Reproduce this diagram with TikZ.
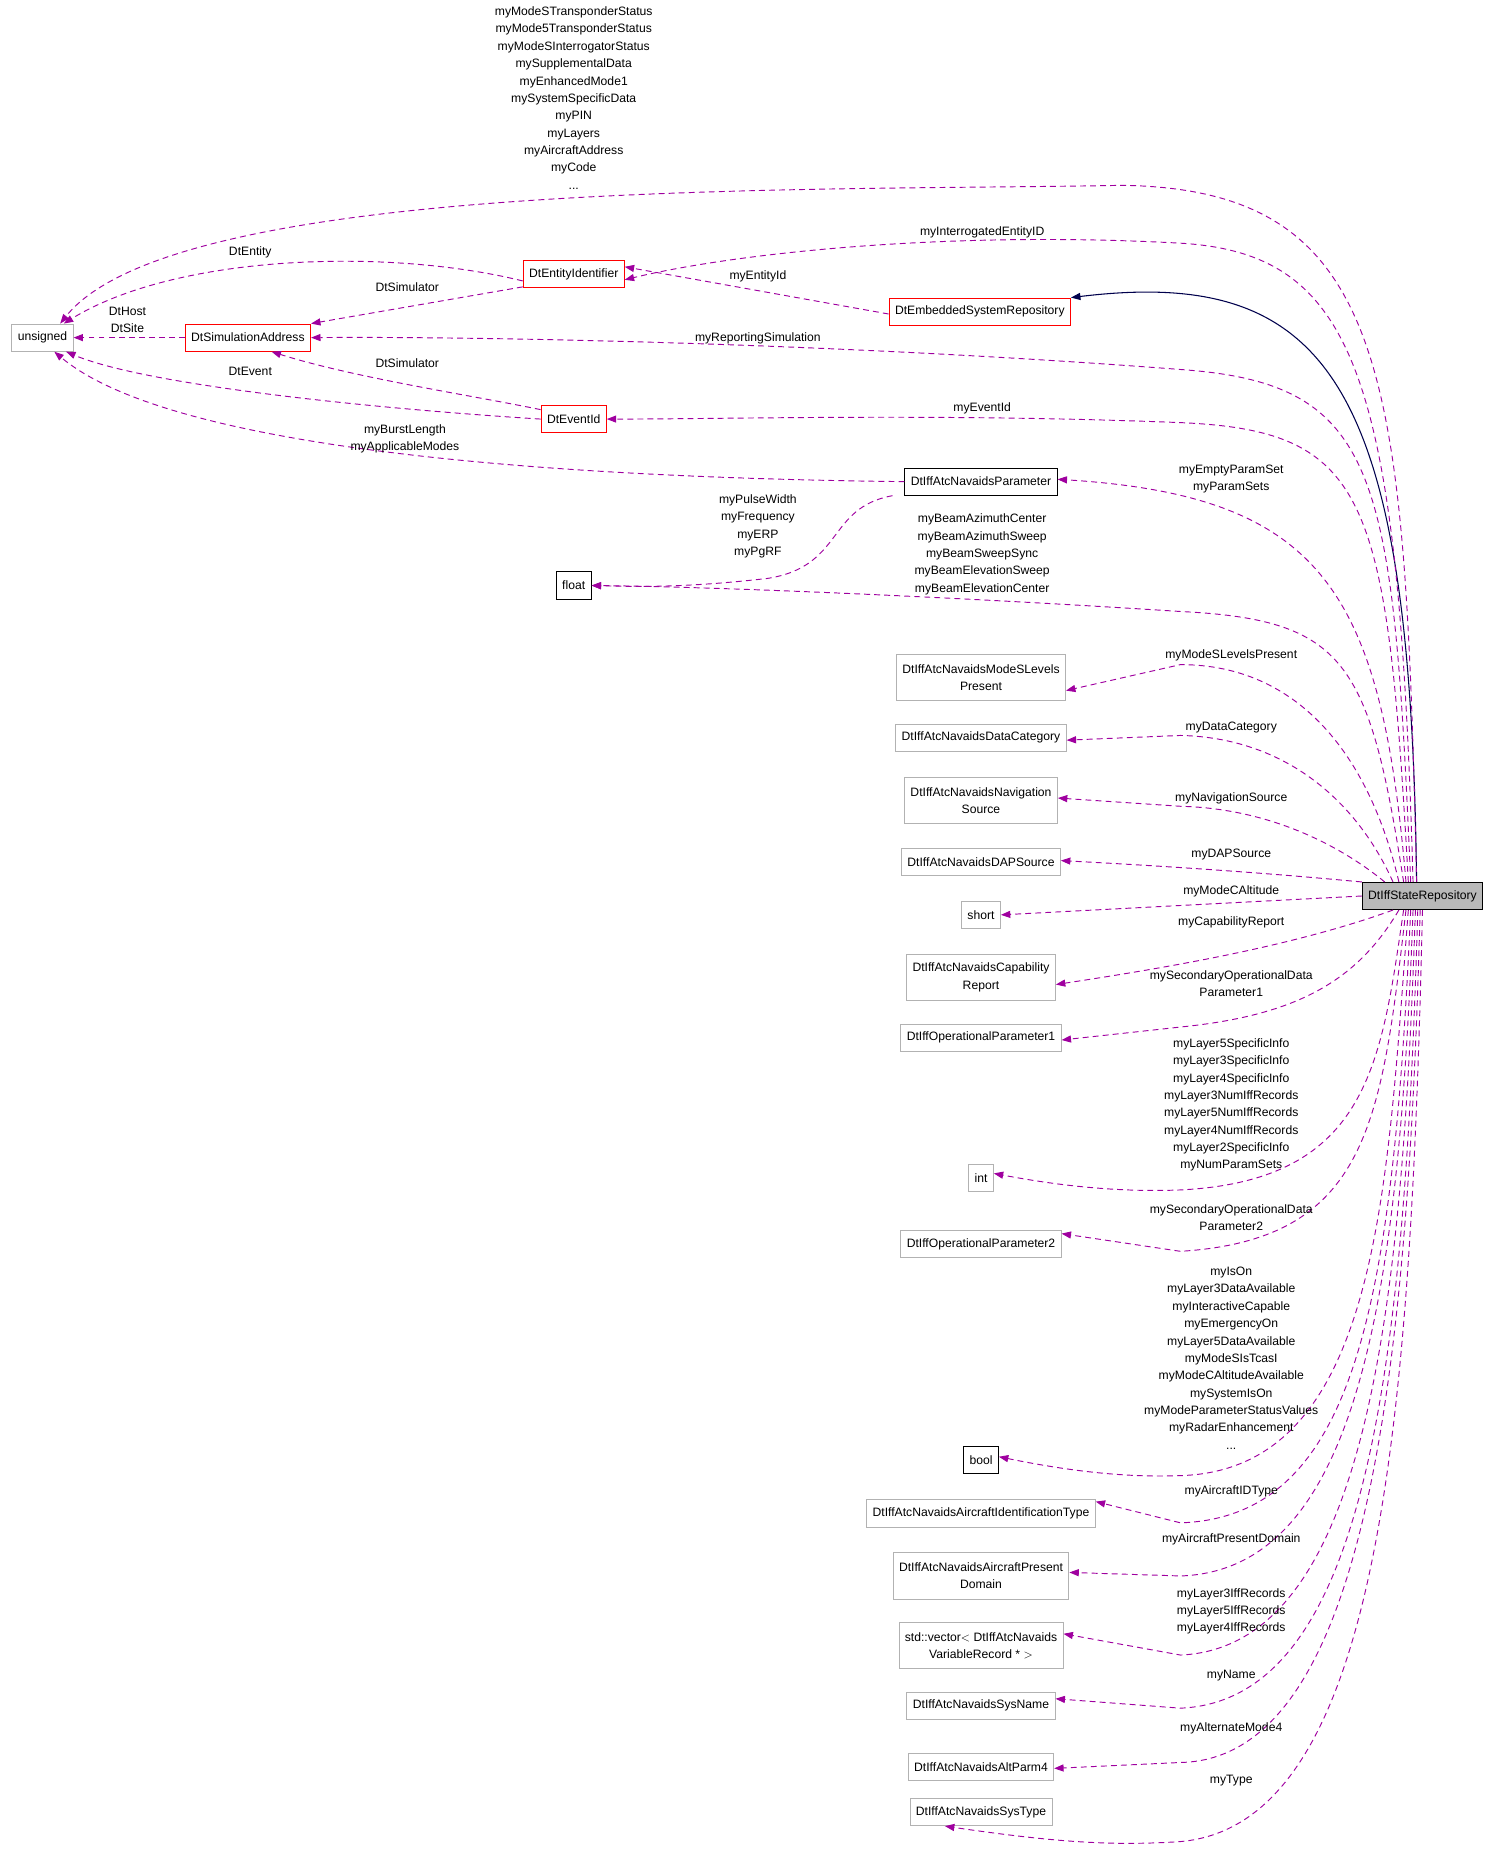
\documentclass[tikz,border=0pt]{standalone}
\usepackage{fontspec}
\setmainfont{Liberation Sans}
\usetikzlibrary{arrows.meta}
\begin{document}
\begin{tikzpicture}[x=1pt,y=-1pt,
  font=\fontsize{10.3}{14.7}\selectfont,
  box/.style={draw=#1,rectangle,inner xsep=5pt,inner ysep=0pt,minimum height=23pt,align=center,line width=0.8pt},
  box/.default=gray!60,
  dbl/.style={minimum height=39pt},
  dep/.style={draw=violet!80!magenta,color=violet!75!magenta,dash pattern=on 5pt off 3.5pt,line width=0.8pt,-{Triangle[length=8pt,width=6pt]}},
  inh/.style={draw=blue!30!black,line width=0.9pt,-{Triangle[length=8pt,width=6pt]}},
  lab/.style={align=center,inner sep=0pt,text=black}]
\useasboundingbox (0,0) rectangle (1270,1568);
% nodes
\node[box] (uns) at (36,286) {unsigned};
\node[box=red] (sim) at (210,286) {DtSimulationAddress};
\node[box=red] (ent) at (486,232) {DtEntityIdentifier};
\node[box=red] (emb) at (830,264) {DtEmbeddedSystemRepository};
\node[box=red] (evt) at (486,355) {DtEventId};
\node[box=black] (par) at (831,408) {DtIffAtcNavaidsParameter};
\node[box=black] (flt) at (486,496) {float};
\node[box,dbl] (msl) at (831,574) {DtIffAtcNavaidsModeSLevels\\Present};
\node[box] (dc) at (831,625) {DtIffAtcNavaidsDataCategory};
\node[box,dbl] (nav) at (831,678) {DtIffAtcNavaidsNavigation\\Source};
\node[box] (dap) at (831,730) {DtIffAtcNavaidsDAPSource};
\node[box] (sht) at (831,775) {short};
\node[box,dbl] (cap) at (831,828) {DtIffAtcNavaidsCapability\\Report};
\node[box] (op1) at (831,879) {DtIffOperationalParameter1};
\node[box] (int) at (831,998) {int};
\node[box] (op2) at (831,1054) {DtIffOperationalParameter2};
\node[box=black] (bool) at (831,1237) {bool};
\node[box] (aid) at (831,1282) {DtIffAtcNavaidsAircraftIdentificationType};
\node[box,dbl] (apd) at (831,1335) {DtIffAtcNavaidsAircraftPresent\\Domain};
\node[box,dbl] (vec) at (831,1394) {std::vector$<$ DtIffAtcNavaids\\VariableRecord * $>$};
\node[box] (sn) at (831,1445) {DtIffAtcNavaidsSysName};
\node[box] (alt) at (831,1497) {DtIffAtcNavaidsAltParm4};
\node[box] (st) at (831,1535) {DtIffAtcNavaidsSysType};
\node[box=black,fill=gray!55] (sr) at (1205,759) {DtIffStateRepository};
% inheritance
\draw[inh] ([xshift=-5pt]sr.north) .. controls (1195,330) and (1130,225) .. (emb.north east);
% edges from state repository (above)
\draw[dep] ([xshift=-5pt]sr.north) .. controls (1190,320) and (1180,160) .. (950,157) .. controls (700,162) and (150,150) .. ([xshift=15pt]uns.north);
\draw[dep] ([xshift=-8pt]sr.north) .. controls (1185,320) and (1150,215) .. (1000,206) .. controls (800,195) and (620,215) .. ([yshift=-5pt]ent.east);
\draw[dep] ([xshift=-10pt]sr.north) .. controls (1180,400) and (1170,325) .. (1000,313) .. controls (700,290) and (400,285) .. (sim.east);
\draw[dep] ([xshift=-12pt]sr.north) .. controls (1175,420) and (1160,365) .. (1000,358) .. controls (800,350) and (620,355) .. (evt.east);
\draw[dep] ([xshift=-14pt]sr.north) .. controls (1170,500) and (1120,420) .. ([yshift=2pt]par.east);
\draw[dep] ([xshift=-16pt]sr.north) .. controls (1160,560) and (1140,525) .. (1000,518) .. controls (800,505) and (600,497) .. (flt.east);
\draw[dep] ([xshift=-20pt]sr.north) .. controls (1160,640) and (1100,563) .. (1000,563) -- ([yshift=-11pt]msl.east);
\draw[dep] ([xshift=-25pt]sr.north) .. controls (1150,680) and (1090,625) .. (1000,623) -- ([yshift=-2pt]dc.east);
\draw[dep] ([xshift=-32pt]sr.north) .. controls (1140,720) and (1080,685) .. (1000,683) -- ([yshift=2pt]nav.east);
\draw[dep] (sr.north west) .. controls (1130,745) and (1050,737) .. ([yshift=1pt]dap.east);
\draw[dep] (sr.west) -- (sht.east);
\draw[dep] ([xshift=-25pt]sr.south) .. controls (1100,800) and (1000,818) .. ([yshift=-6pt]cap.east);
\draw[dep] ([xshift=-20pt]sr.south) .. controls (1150,830) and (1100,860) .. (1000,870) -- ([yshift=-2pt]op1.east);
\draw[dep] ([xshift=-16pt]sr.south) .. controls (1170,900) and (1160,1000) .. (1000,1008) .. controls (950,1010) and (900,1005) .. ([yshift=4pt]int.east);
\draw[dep] ([xshift=-14pt]sr.south) .. controls (1170,950) and (1160,1050) .. (1000,1060) -- ([yshift=9pt]op2.east);
\draw[dep] ([xshift=-12pt]sr.south) .. controls (1175,1000) and (1170,1245) .. (1000,1250) .. controls (950,1252) and (900,1245) .. ([yshift=3pt]bool.east);
\draw[dep] ([xshift=-10pt]sr.south) .. controls (1180,1100) and (1150,1285) .. (1000,1290) -- ([yshift=10pt]aid.east);
\draw[dep] ([xshift=-8pt]sr.south) .. controls (1185,1100) and (1150,1330) .. (1000,1335) -- ([yshift=3pt]apd.east);
\draw[dep] ([xshift=-6pt]sr.south) .. controls (1188,1100) and (1160,1395) .. (1000,1402) -- ([yshift=10pt]vec.east);
\draw[dep] ([xshift=-4pt]sr.south) .. controls (1190,1150) and (1160,1440) .. (1000,1447) -- ([yshift=6pt]sn.east);
\draw[dep] ([xshift=-2pt]sr.south) .. controls (1193,1150) and (1160,1490) .. (1000,1493) -- ([yshift=-1pt]alt.east);
\draw[dep] (sr.south) .. controls (1195,1200) and (1170,1545) .. (1000,1560) .. controls (940,1564) and (890,1560) .. ([xshift=30pt]st.south west);
% other edges
\draw[dep] ([yshift=-6pt]ent.west) .. controls (330,210) and (150,215) .. ([xshift=18pt]uns.north);
\draw[dep] ([yshift=-11pt]ent.west) -- (sim.north east);
\draw[dep] ([yshift=-2pt]emb.west) -- ([yshift=6pt]ent.east);
\draw[dep] (sim.west) -- (uns.east);
\draw[dep] ([yshift=8pt]evt.west) .. controls (400,335) and (300,320) .. ([xshift=20pt]sim.south);
\draw[dep] (evt.west) .. controls (300,345) and (120,325) .. ([xshift=20pt]uns.south);
\draw[dep] (par.west) .. controls (500,405) and (150,385) .. ([xshift=10pt]uns.south);
\draw[dep] ([xshift=-75pt]par.south) .. controls (700,430) and (715,480) .. (650,490) .. controls (580,498) and (540,497) .. (flt.east);
% labels
\node[lab] (l0) at (486,83) {myModeSTransponderStatus\\myMode5TransponderStatus\\myModeSInterrogatorStatus\\mySupplementalData\\myEnhancedMode1\\mySystemSpecificData\\myPIN\\myLayers\\myAircraftAddress\\myCode\\...};
\node[lab] (l1) at (832,197) {myInterrogatedEntityID};
\node[lab] (l2) at (212,214) {DtEntity};
\node[lab] (l3) at (345,243) {DtSimulator};
\node[lab] (l4) at (642,234) {myEntityId};
\node[lab] (l5) at (108,271) {DtHost\\DtSite};
\node[lab] (l6) at (642,287) {myReportingSimulation};
\node[lab] (l7) at (345,308) {DtSimulator};
\node[lab] (l8) at (212,315) {DtEvent};
\node[lab] (l9) at (832,346) {myEventId};
\node[lab] (l10) at (343,371.5) {myBurstLength\\myApplicableModes};
\node[lab] (l11) at (1043,406) {myEmptyParamSet\\myParamSets};
\node[lab] (l12) at (642,446) {myPulseWidth\\myFrequency\\myERP\\myPgRF};
\node[lab] (l13) at (832,469.5) {myBeamAzimuthCenter\\myBeamAzimuthSweep\\myBeamSweepSync\\myBeamElevationSweep\\myBeamElevationCenter};
\node[lab] (l14) at (1043,555) {myModeSLevelsPresent};
\node[lab] (l15) at (1043,616) {myDataCategory};
\node[lab] (l16) at (1043,676) {myNavigationSource};
\node[lab] (l17) at (1043,724) {myDAPSource};
\node[lab] (l18) at (1043,755) {myModeCAltitude};
\node[lab] (l19) at (1043,781) {myCapabilityReport};
\node[lab] (l20) at (1043,833.5) {mySecondaryOperationalData\\Parameter1};
\node[lab] (l21) at (1043,936) {myLayer5SpecificInfo\\myLayer3SpecificInfo\\myLayer4SpecificInfo\\myLayer3NumIffRecords\\myLayer5NumIffRecords\\myLayer4NumIffRecords\\myLayer2SpecificInfo\\myNumParamSets};
\node[lab] (l22) at (1043,1031.5) {mySecondaryOperationalData\\Parameter2};
\node[lab] (l23) at (1043,1150.5) {myIsOn\\myLayer3DataAvailable\\myInteractiveCapable\\myEmergencyOn\\myLayer5DataAvailable\\myModeSIsTcasI\\myModeCAltitudeAvailable\\mySystemIsOn\\myModeParameterStatusValues\\myRadarEnhancement\\...};
\node[lab] (l24) at (1043,1263) {myAircraftIDType};
\node[lab] (l25) at (1043,1304) {myAircraftPresentDomain};
\node[lab] (l26) at (1043,1365) {myLayer3IffRecords\\myLayer5IffRecords\\myLayer4IffRecords};
\node[lab] (l27) at (1043,1419) {myName};
\node[lab] (l28) at (1043,1464) {myAlternateMode4};
\node[lab] (l29) at (1043,1508) {myType};
\end{tikzpicture}
\end{document}
